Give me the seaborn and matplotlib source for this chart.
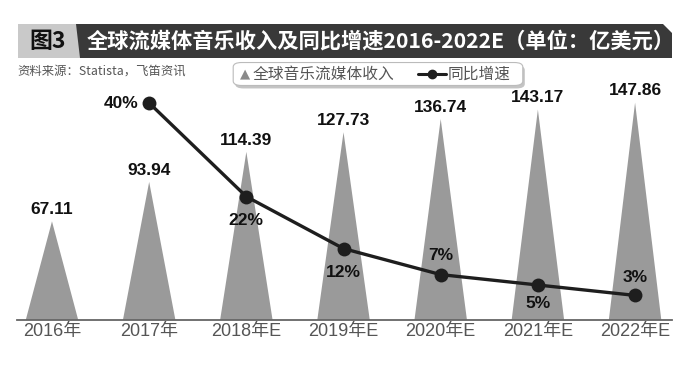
import matplotlib
matplotlib.use("Agg")
import matplotlib.pyplot as plt
import seaborn as sns
import pandas as pd
from matplotlib.patches import Rectangle, Polygon, FancyBboxPatch
from matplotlib.lines import Line2D

# ---- data ----
years = ["2016年", "2017年", "2018年E", "2019年E", "2020年E", "2021年E", "2022年E"]
revenue = [67.11, 93.94, 114.39, 127.73, 136.74, 143.17, 147.86]
growth_years = ["2017年", "2018年E", "2019年E", "2020年E", "2021年E", "2022年E"]
growth = [40, 22, 12, 7, 5, 3]
title = "全球流媒体音乐收入及同比增速2016-2022E（单位：亿美元）"
fig_label = "图3"
source = "资料来源：Statista，飞笛资讯"
legend_labels = ["全球音乐流媒体收入", "同比增速"]

sns.set_theme(style="white")
plt.rcParams['font.family'] = ['Liberation Sans', 'Noto Sans CJK SC', 'DejaVu Sans']
CJK = ['Noto Sans CJK SC', 'DejaVu Sans']
NUM = ['Liberation Sans', 'Noto Sans CJK SC', 'DejaVu Sans']

W, H = 700, 368
fig = plt.figure(figsize=(7, 3.68), dpi=100)
fig.patch.set_facecolor("white")

def fx(x): return x / W
def fy(y): return 1 - y / H

ax = fig.add_axes([fx(17), fy(320), fx(672) - fx(17), (320 - 60) / H])
ax.set_xlim(-0.36, 6.38)
ax.set_ylim(0, 260 / 1.47)

xpos = list(range(len(years)))
half = 0.27
tri_color = "#9a9a9a"
for i, v in zip(xpos, revenue):
    ax.fill([i - half, i, i + half], [0, v, 0], color=tri_color, lw=0, zorder=1)
    ax.annotate(f"{v:.2f}", (i, v), xytext=(0, 3), textcoords="offset points",
                ha="center", va="bottom", fontsize=12.5, fontweight="bold",
                family=NUM, color="#111111", zorder=5)

ax.set_xticks(xpos)
ax.set_xticklabels(years, fontsize=13, color="#555555", family=['Liberation Sans', 'Noto Sans CJK SC'])
ax.tick_params(axis="x", length=0, pad=2)
ax.set_yticks([])
for s in ["top", "left", "right"]:
    ax.spines[s].set_visible(False)
ax.spines["bottom"].set_color("#666666")
ax.spines["bottom"].set_linewidth(1.3)

# growth line on twin axis
ax2 = ax.twinx()
ax2.set_ylim(-9 / 5.2, (260 - 9) / 5.2)
gdf = pd.DataFrame({"x": [years.index(y) for y in growth_years], "g": growth})
sns.lineplot(data=gdf, x="x", y="g", ax=ax2, color="#1e1e1e", lw=2.4,
             marker="o", markersize=10, markeredgewidth=0, zorder=4)
ax2.set_xlim(-0.36, 6.38)
ax2.set_yticks([])
ax2.set_ylabel("")
ax2.set_xlabel("")
for s in ["top", "left", "right", "bottom"]:
    ax2.spines[s].set_visible(False)

offsets = [(-8, 0, "right", "center"), (0, -17, "center", "center"),
           (0, -17, "center", "center"), (0, 14, "center", "center"),
           (0, -13, "center", "center"), (0, 13, "center", "center")]
for (x, g), (dx, dy, ha, va) in zip(zip(gdf["x"], gdf["g"]), offsets):
    ax2.annotate(f"{g}%", (x, g), xytext=(dx, dy), textcoords="offset points",
                 ha=ha, va=va, fontsize=12.5, fontweight="bold",
                 family=NUM, color="#111111", zorder=6)

# ---- header ----
fig.patches.append(Rectangle((fx(18), fy(58)), fx(80) - fx(18), (58 - 24) / H,
                             transform=fig.transFigure, color="#c9c9c9", lw=0, zorder=0))
fig.patches.append(Polygon([(fx(76), fy(24)), (fx(663), fy(24)), (fx(672), fy(33)),
                            (fx(672), fy(58)), (fx(80), fy(58))],
                           closed=True, transform=fig.transFigure,
                           color="#393939", lw=0, zorder=0))
fig.text(fx(48), fy(41), fig_label, ha="center", va="center", fontsize=16.5,
         fontweight="bold", color="#111111", family=CJK)
fig.text(fx(87), fy(41), title, ha="left", va="center", fontsize=15.3,
         fontweight="bold", color="white", family=CJK)
fig.text(fx(17), fy(71), source, ha="left", va="center", fontsize=8.9,
         color="#555555", family=CJK)

# ---- legend ----
box = FancyBboxPatch((fx(236), fy(84)), fx(520) - fx(236), (84 - 64) / H,
                     boxstyle="round,pad=0.004,rounding_size=0.012",
                     transform=fig.transFigure, facecolor="white",
                     edgecolor="#bbbbbb", lw=0.8, zorder=3)
shadow = FancyBboxPatch((fx(238), fy(87)), fx(520) - fx(236), (84 - 64) / H,
                        boxstyle="round,pad=0.004,rounding_size=0.012",
                        transform=fig.transFigure, facecolor="#c4c4c4",
                        edgecolor="none", zorder=2)
fig.patches.append(shadow)
fig.patches.append(box)
fig.text(fx(240), fy(74), "▲", ha="left", va="center", fontsize=9.5,
         color="#8a8a8a", family=['DejaVu Sans'], zorder=4)
fig.text(fx(253), fy(74), legend_labels[0], ha="left", va="center", fontsize=11.3,
         color="#555555", family=CJK, zorder=4)
fig.lines.append(Line2D([fx(418), fx(446)], [fy(74), fy(74)], transform=fig.transFigure,
                        color="#1e1e1e", lw=2.2, marker=None, zorder=4))
fig.lines.append(Line2D([fx(432)], [fy(74)], transform=fig.transFigure,
                        color="#1e1e1e", marker="o", markersize=6, zorder=5))
fig.text(fx(448), fy(74), legend_labels[1], ha="left", va="center", fontsize=11.3,
         color="#555555", family=CJK, zorder=4)

fig.savefig("out.png", dpi=100)
